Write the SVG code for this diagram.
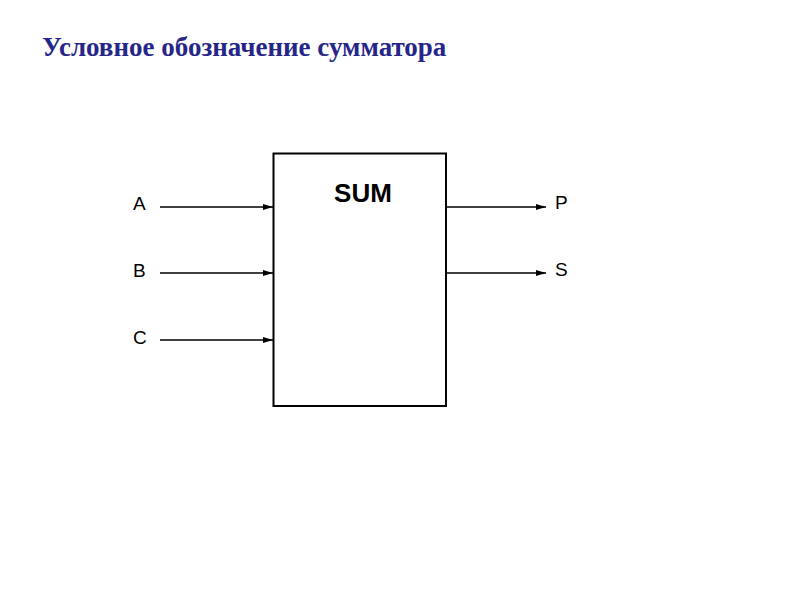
<svg xmlns="http://www.w3.org/2000/svg" width="800" height="600" viewBox="0 0 800 600">
<style>
.title{font-family:"Liberation Serif","Times New Roman",serif;font-weight:bold;font-size:27px;fill:#262688}
.lbl{font-family:"Liberation Sans",Arial,sans-serif;font-size:19px;fill:#000}
.sum{font-family:"Liberation Sans",Arial,sans-serif;font-weight:bold;font-size:26px;fill:#000}
.wire{stroke:#000;stroke-width:1.5;fill:none}
</style>
<defs>
<marker id="arr" viewBox="0 0 10 6" refX="10" refY="3" markerWidth="10" markerHeight="6" markerUnits="userSpaceOnUse" orient="auto">
<path d="M0,0 L10,3 L0,6 Z" fill="#000"/>
</marker>
</defs>
<rect width="800" height="600" fill="#fff"/>
<text class="title" x="42" y="56">Условное обозначение сумматора</text>
<g id="sum">
<rect x="273.5" y="153.5" width="172.5" height="252.5" fill="#fff" stroke="#000" stroke-width="2"/>
<text class="sum" x="363" y="202" text-anchor="middle">SUM</text>
</g>
<g id="inA"><text class="lbl" x="133" y="210">A</text></g>
<g id="inB"><text class="lbl" x="133" y="277">B</text></g>
<g id="inC"><text class="lbl" x="133" y="344">C</text></g>
<g id="outP"><text class="lbl" x="555" y="209">P</text></g>
<g id="outS"><text class="lbl" x="555" y="276">S</text></g>
<g id="connectors">
<line class="wire" x1="160" y1="207" x2="273" y2="207" marker-end="url(#arr)"/>
<line class="wire" x1="160" y1="273" x2="273" y2="273" marker-end="url(#arr)"/>
<line class="wire" x1="160" y1="340" x2="273" y2="340" marker-end="url(#arr)"/>
<line class="wire" x1="446" y1="207" x2="546" y2="207" marker-end="url(#arr)"/>
<line class="wire" x1="446" y1="273" x2="546" y2="273" marker-end="url(#arr)"/>
</g>
</svg>
